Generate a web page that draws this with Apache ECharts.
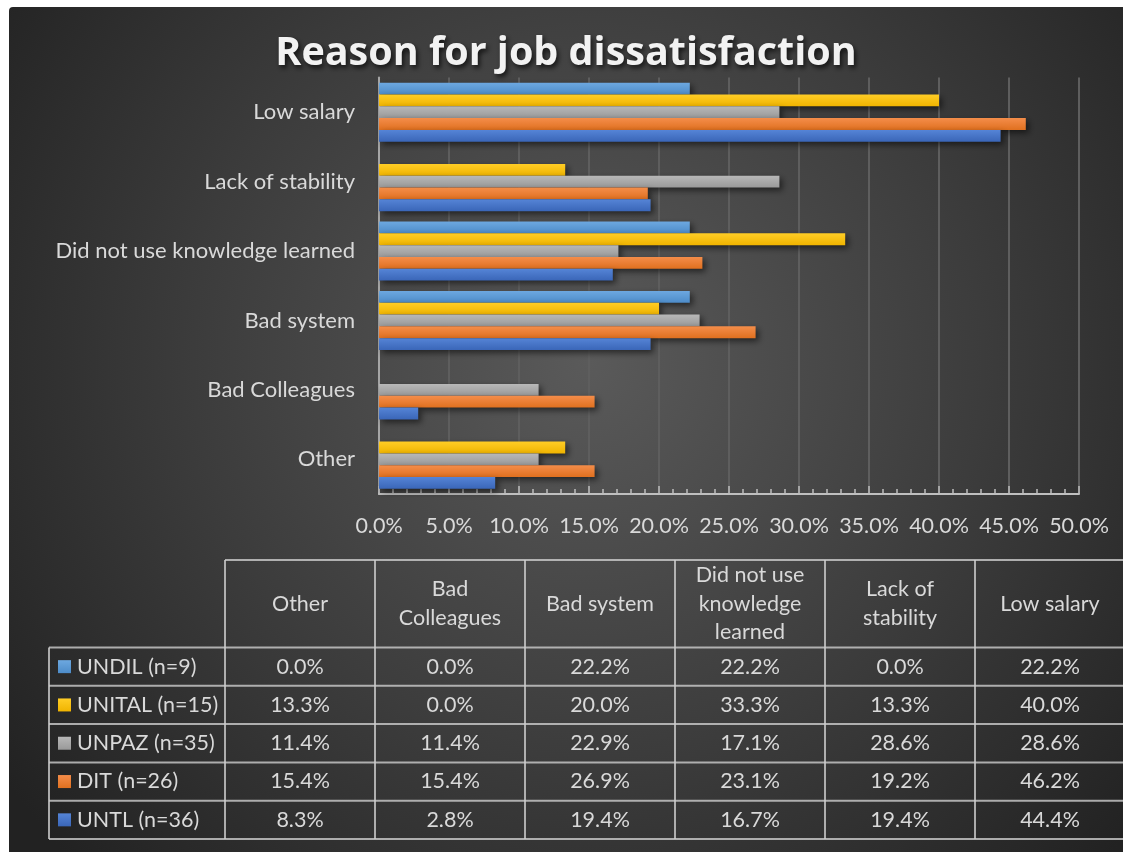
<!DOCTYPE html>
<html>
<head>
<meta charset="utf-8">
<script src="https://cdn.jsdelivr.net/npm/echarts@6/dist/echarts.min.js"></script>
<style>
  html, body { margin: 0; padding: 0; background: #ffffff; }
  #chart { position: absolute; left: 9px; top: 7px; width: 1114px; height: 845px; border-top-left-radius: 4px; overflow: hidden; }
</style>
</head>
<body>
<div id="chart"></div>
<script>
// Reasons, bottom-to-top on the bar axis (and left-to-right in the table)
const categories = ['Other', 'Bad Colleagues', 'Bad system', 'Did not use knowledge learned', 'Lack of stability', 'Low salary'];
const headerLabels = ['Other', 'Bad\nColleagues', 'Bad system', 'Did not use\nknowledge\nlearned', 'Lack of\nstability', 'Low salary'];
const seriesNames = ['UNDIL (n=9)', 'UNITAL (n=15)', 'UNPAZ (n=35)', 'DIT (n=26)', 'UNTL (n=36)'];

// Percent of respondents per reason
const undil  = [0.0, 0.0, 22.2, 22.2, 0.0, 22.2];
const unital = [13.3, 0.0, 20.0, 33.3, 13.3, 40.0];
const unpaz  = [11.4, 11.4, 22.9, 17.1, 28.6, 28.6];
const dit    = [15.4, 15.4, 26.9, 23.1, 19.2, 46.2];
const untl   = [8.3, 2.8, 19.4, 16.7, 19.4, 44.4];
const seriesValues = [undil, unital, unpaz, dit, untl];

const xTicks = [0, 5, 10, 15, 20, 25, 30, 35, 40, 45, 50];

// Bar fills: lighter top edge, deeper bottom edge
const palette = [
  ['#6da8e0', '#4d8cc9'],
  ['#ffcd26', '#f0b400'],
  ['#b8b8b8', '#999999'],
  ['#f48d4a', '#e0701f'],
  ['#5584d6', '#3a66b8']
];

const FONT = 'Lato, "Open Sans", sans-serif';
const TEXT = '#d9d9d9';
const W = 1114, H = 845;
const FS = 21.5;

const chart = echarts.init(document.getElementById('chart'), null, { renderer: 'canvas' });

function grad(c) {
  return { type: 'linear', x: 0, y: 0, x2: 0, y2: 1,
    colorStops: [{ offset: 0, color: c[0] }, { offset: 1, color: c[1] }] };
}

// ---- data table built from the same arrays ----
const tbl = {
  legendLeft: 40, colStart: 216, colW: 150,
  headTop: 553, rowTop: 640.5, rowH: 38.3
};
const lineStyle = { stroke: 'rgba(205,205,205,0.8)', lineWidth: 2 };
const graphics = [];

// panel background
graphics.push({
  type: 'rect', z: -10, silent: true,
  shape: { x: 0, y: 0, width: W, height: H },
  style: { fill: { type: 'radial', x: 0.52, y: 0.42, r: 0.85,
    colorStops: [{ offset: 0, color: '#5a5a5a' }, { offset: 0.55, color: '#3c3c3c' }, { offset: 1, color: '#222222' }] } }
});

const nRows = seriesNames.length;
const tblBottom = tbl.rowTop + nRows * tbl.rowH;
const tblRight = tbl.colStart + categories.length * tbl.colW;

// header top line
graphics.push({ type: 'line', shape: { x1: tbl.colStart, y1: tbl.headTop, x2: tblRight, y2: tbl.headTop }, style: lineStyle });
// row separators
for (let r = 0; r <= nRows; r++) {
  const y = tbl.rowTop + r * tbl.rowH;
  graphics.push({ type: 'line', shape: { x1: tbl.legendLeft, y1: y, x2: tblRight, y2: y }, style: lineStyle });
}
// legend column left border
graphics.push({ type: 'line', shape: { x1: tbl.legendLeft, y1: tbl.rowTop, x2: tbl.legendLeft, y2: tblBottom }, style: lineStyle });
// column borders
for (let c = 0; c <= categories.length; c++) {
  const x = tbl.colStart + c * tbl.colW;
  graphics.push({ type: 'line', shape: { x1: x, y1: tbl.headTop, x2: x, y2: tblBottom }, style: lineStyle });
}
// header text
headerLabels.forEach((h, c) => {
  graphics.push({
    type: 'text',
    x: tbl.colStart + c * tbl.colW + tbl.colW / 2,
    y: (tbl.headTop + tbl.rowTop) / 2,
    style: { text: h, fill: TEXT, font: FS + 'px ' + FONT, align: 'center', verticalAlign: 'middle', lineHeight: 28.5 }
  });
});
// series rows
seriesNames.forEach((name, r) => {
  const cy = tbl.rowTop + r * tbl.rowH + tbl.rowH / 2;
  graphics.push({
    type: 'rect',
    shape: { x: tbl.legendLeft + 9, y: cy - 6.5, width: 13, height: 13 },
    style: { fill: grad(palette[r]) }
  });
  graphics.push({
    type: 'text', x: tbl.legendLeft + 28, y: cy,
    style: { text: name, fill: TEXT, font: FS + 'px ' + FONT, align: 'left', verticalAlign: 'middle' }
  });
  seriesValues[r].forEach((v, c) => {
    graphics.push({
      type: 'text',
      x: tbl.colStart + c * tbl.colW + tbl.colW / 2, y: cy,
      style: { text: v.toFixed(1) + '%', fill: TEXT, font: FS + 'px ' + FONT, align: 'center', verticalAlign: 'middle' }
    });
  });
});

const option = {
  animation: false,
  title: {
    text: 'Reason for job dissatisfaction',
    left: 'center', top: 22,
    textStyle: {
      color: '#f2f2f2', fontSize: 39.5, fontWeight: 'bold', fontFamily: '"Open Sans", Lato, sans-serif',
      textShadowColor: 'rgba(0,0,0,0.7)', textShadowBlur: 5, textShadowOffsetX: 2, textShadowOffsetY: 3
    }
  },
  grid: { left: 370, top: 70.5, width: 700, height: 416.5, containLabel: false },
  xAxis: {
    type: 'value', min: 0, max: 50, interval: 5,
    axisLine: { show: true, lineStyle: { color: '#bfbfbf', width: 2 } },
    axisTick: { show: true, inside: true, length: 8, lineStyle: { color: '#bfbfbf', width: 1.5 } },
    minorTick: { show: true, splitNumber: 5, length: 5, lineStyle: { color: '#bfbfbf', width: 1.5 } },
    splitLine: { show: true, lineStyle: { color: '#5e5e5e', width: 2 } },
    axisLabel: {
      color: TEXT, fontSize: FS, fontFamily: FONT, margin: 21,
      customValues: xTicks,
      formatter: v => v.toFixed(1) + '%'
    }
  },
  yAxis: {
    type: 'category', data: categories,
    axisLine: { show: true, lineStyle: { color: '#a6a6a6', width: 2 } },
    axisTick: { show: false },
    axisLabel: { color: TEXT, fontSize: 22, fontFamily: FONT, margin: 24 }
  },
  series: seriesNames.map((name, i) => ({
    name, type: 'bar',
    data: seriesValues[i],
    barGap: '0%', barCategoryGap: '14.8%',
    itemStyle: {
      color: grad(palette[i]),
      shadowColor: 'rgba(0,0,0,0.55)', shadowBlur: 6, shadowOffsetX: 3, shadowOffsetY: 3
    }
  })),
  graphic: graphics
};

chart.setOption(option);
</script>
</body>
</html>
